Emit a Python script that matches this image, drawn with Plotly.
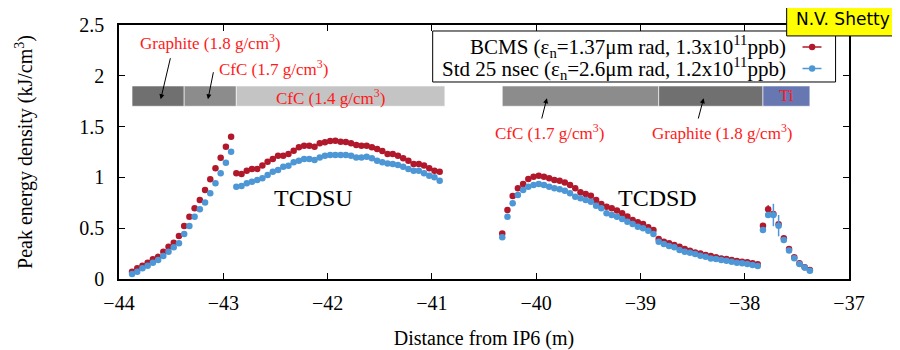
import plotly.graph_objects as go

# ---------------- data ----------------
distance_m = [
    -43.875, -43.825, -43.775, -43.725, -43.675, -43.625, -43.575, -43.525, -43.475, -43.425,
    -43.375, -43.325, -43.275, -43.225, -43.175, -43.125, -43.075, -43.025, -42.975, -42.925,
    -42.875, -42.825, -42.775, -42.725, -42.675, -42.625, -42.575, -42.525, -42.475, -42.425,
    -42.375, -42.325, -42.275, -42.225, -42.175, -42.125, -42.075, -42.025, -41.975, -41.925,
    -41.875, -41.825, -41.775, -41.725, -41.675, -41.625, -41.575, -41.525, -41.475, -41.425,
    -41.375, -41.325, -41.275, -41.225, -41.175, -41.125, -41.075, -41.025, -40.975, -40.925,
    -40.325, -40.275, -40.225, -40.175, -40.125, -40.075, -40.025, -39.975, -39.925, -39.875,
    -39.825, -39.775, -39.725, -39.675, -39.625, -39.575, -39.525, -39.475, -39.425, -39.375,
    -39.325, -39.275, -39.225, -39.175, -39.125, -39.075, -39.025, -38.975, -38.925, -38.875,
    -38.825, -38.775, -38.725, -38.675, -38.625, -38.575, -38.525, -38.475, -38.425, -38.375,
    -38.325, -38.275, -38.225, -38.175, -38.125, -38.075, -38.025, -37.975, -37.925, -37.875,
    -37.825, -37.775, -37.725, -37.675, -37.625, -37.575, -37.525, -37.475, -37.425, -37.375,
]

bcms_density = [
    0.072, 0.105, 0.131, 0.160, 0.194, 0.219, 0.269, 0.318, 0.357, 0.423,
    0.522, 0.613, 0.696, 0.778, 0.876, 0.981, 1.090, 1.194, 1.302, 1.401,
    1.040, 1.033, 1.066, 1.083, 1.083, 1.116, 1.155, 1.181, 1.214, 1.214,
    1.230, 1.263, 1.296, 1.312, 1.312, 1.302, 1.335, 1.345, 1.358, 1.361,
    1.352, 1.348, 1.335, 1.319, 1.312, 1.312, 1.296, 1.280, 1.260, 1.230,
    1.230, 1.214, 1.188, 1.165, 1.132, 1.132, 1.116, 1.089, 1.066, 1.056,
    0.449, 0.679, 0.817, 0.892, 0.935, 0.984, 1.007, 1.017, 1.007, 0.991,
    0.974, 0.968, 0.951, 0.925, 0.892, 0.853, 0.836, 0.820, 0.778, 0.738,
    0.712, 0.696, 0.673, 0.646, 0.614, 0.581, 0.558, 0.541, 0.509, 0.482,
    0.394, 0.367, 0.351, 0.335, 0.318, 0.295, 0.279, 0.262, 0.252, 0.236,
    0.226, 0.213, 0.203, 0.197, 0.187, 0.177, 0.170, 0.164, 0.154, 0.145,
    0.525, 0.686, 0.640, 0.540, 0.400, 0.295, 0.214, 0.155, 0.115, 0.089,
]
bcms_error = [0.0] * 111 + [0.04] + [0.0] * 8

std25_density = [
    0.049, 0.072, 0.105, 0.131, 0.160, 0.187, 0.226, 0.269, 0.312, 0.351,
    0.443, 0.522, 0.613, 0.686, 0.753, 0.844, 0.942, 1.040, 1.145, 1.253,
    0.909, 0.915, 0.942, 0.958, 0.974, 0.991, 1.024, 1.056, 1.073, 1.106,
    1.115, 1.148, 1.165, 1.181, 1.181, 1.171, 1.197, 1.214, 1.220, 1.220,
    1.220, 1.220, 1.214, 1.197, 1.197, 1.204, 1.188, 1.165, 1.148, 1.138,
    1.132, 1.122, 1.106, 1.083, 1.066, 1.066, 1.040, 1.017, 1.001, 0.968,
    0.410, 0.613, 0.745, 0.827, 0.876, 0.909, 0.925, 0.935, 0.925, 0.909,
    0.892, 0.883, 0.869, 0.843, 0.810, 0.794, 0.778, 0.761, 0.722, 0.696,
    0.646, 0.630, 0.613, 0.590, 0.564, 0.541, 0.515, 0.499, 0.476, 0.443,
    0.367, 0.344, 0.324, 0.312, 0.285, 0.269, 0.259, 0.246, 0.230, 0.220,
    0.203, 0.197, 0.187, 0.180, 0.171, 0.161, 0.154, 0.148, 0.138, 0.128,
    0.482, 0.630, 0.630, 0.525, 0.384, 0.280, 0.204, 0.148, 0.112, 0.082,
]
std25_error = [0.0] * 112 + [0.11, 0.105] + [0.0] * 6

series_names = [
    "BCMS (ε<sub>n</sub>=1.37μm rad, 1.3x10<sup>11</sup>ppb)",
    "Std 25 nsec (ε<sub>n</sub>=2.6μm rad, 1.2x10<sup>11</sup>ppb)",
]

# material blocks along the absorber
material_start = [-43.875, -43.375, -42.875, -40.325, -38.825, -37.825]
material_end = [-43.375, -42.875, -40.875, -38.825, -37.825, -37.375]
material_band = [1.70, 1.90]

x_ticks = [-44, -43, -42, -41, -40, -39, -38, -37]
y_ticks = [0, 0.5, 1, 1.5, 2, 2.5]

# ---------------- style ----------------
RED = "#b2182b"
BLUE = "#4d97d6"
FONT = "Liberation Serif"
material_colors = ["#707070", "#8c8c8c", "#c4c4c4", "#8c8c8c", "#707070", "#6677b2"]

fig = go.Figure()
for y, err, col in [(bcms_density, bcms_error, RED), (std25_density, std25_error, BLUE)]:
    fig.add_trace(go.Scatter(
        x=distance_m, y=y, mode="markers",
        marker=dict(color=col, size=6.5),
        error_y=dict(type="data", array=err, visible=True, color=col, thickness=1.5, width=0),
        showlegend=False,
    ))

shapes = []
for x0, x1, c in zip(material_start, material_end, material_colors):
    shapes.append(dict(type="rect", xref="x", yref="y", x0=x0, x1=x1,
                       y0=material_band[0], y1=material_band[1],
                       fillcolor=c, line=dict(color="white", width=0.6), layer="below"))

# legend box (gnuplot style: text right, sample on the right)
shapes.append(dict(type="rect", xref="paper", yref="paper", x0=0.4297, x1=0.9816,
                   y0=0.7756, y1=0.9764, fillcolor="white", line=dict(color="black", width=1)))
leg_rows = [0.9134, 0.8287]
for row_y, col in zip(leg_rows, [RED, BLUE]):
    shapes.append(dict(type="line", xref="paper", yref="paper", x0=0.9363, x1=0.9623,
                       y0=row_y, y1=row_y, line=dict(color=col, width=1.5)))
    shapes.append(dict(type="circle", xref="paper", yref="paper", xsizemode="pixel",
                       ysizemode="pixel", xanchor=0.9495, yanchor=row_y,
                       x0=-3.2, x1=3.2, y0=-3.2, y1=3.2, fillcolor=col, line=dict(color=col, width=0)))

# N.V. Shetty tag
shapes.append(dict(type="rect", xref="paper", yref="paper", x0=0.9146, x1=1.0685,
                   y0=0.957, y1=1.0866, fillcolor="#ffff00", line=dict(color="black", width=1)))

annotations = []
for name, row_y in zip(series_names, leg_rows):
    annotations.append(dict(xref="paper", yref="paper", x=0.917, y=row_y, text=name,
                            showarrow=False, xanchor="right", yanchor="middle",
                            font=dict(family=FONT, size=21, color="black")))

annotations.append(dict(xref="paper", yref="paper", x=0.9915, y=1.022, text="N.V. Shetty",
                        showarrow=False, xanchor="center", yanchor="middle",
                        font=dict(family="DejaVu Sans", size=17, color="black")))

red_font = dict(family=FONT, size=17, color="#ff1a1a")
labels = [
    ("Graphite (1.8 g/cm<sup>3</sup>)", -43.119, 2.336),
    ("CfC (1.7 g/cm<sup>3</sup>)", -42.52, 2.074),
    ("CfC (1.4 g/cm<sup>3</sup>)", -41.97, 1.79),
    ("CfC (1.7 g/cm<sup>3</sup>)", -39.871, 1.45),
    ("Graphite (1.8 g/cm<sup>3</sup>)", -38.217, 1.45),
    ("Ti", -37.601, 1.805),
]
for t, x, y in labels:
    annotations.append(dict(x=x, y=y, text=t, showarrow=False, font=red_font,
                            xanchor="center", yanchor="middle"))

arrows = [
    ((-43.504, 2.188), (-43.60, 1.769)),
    ((-43.092, 2.050), (-43.147, 1.769)),
    ((-39.950, 1.565), (-39.897, 1.779)),
    ((-38.449, 1.565), (-38.394, 1.779)),
]
for (tx, ty), (hx, hy) in arrows:
    annotations.append(dict(x=hx, y=hy, ax=tx, ay=ty, axref="x", ayref="y", text="",
                            showarrow=True, arrowhead=2, arrowsize=1, arrowwidth=1,
                            arrowcolor="black"))

for t, x in [("TCDSU", -42.133), ("TCDSD", -38.84)]:
    annotations.append(dict(x=x, y=0.794, text=t, showarrow=False,
                            font=dict(family=FONT, size=24, color="black")))

axis_common = dict(showline=True, linecolor="black", linewidth=1.5, mirror="ticks",
                   ticks="inside", ticklen=6, tickwidth=1, tickcolor="black",
                   showgrid=False, zeroline=False, automargin=False,
                   tickfont=dict(family=FONT, size=20, color="black"))

# the page body has an 8px margin, so the figure is sized/offset to compensate
fig.update_layout(
    width=892, height=342,
    margin=dict(l=111, r=51, t=17, b=71),
    plot_bgcolor="white", paper_bgcolor="white",
    font=dict(family=FONT, color="black"),
    shapes=shapes, annotations=annotations,
    xaxis=dict(range=[-44, -37], tickvals=x_ticks, ticklabelstandoff=5,
               title=dict(text="Distance from IP6 (m)", font=dict(family=FONT, size=20), standoff=30),
               **axis_common),
    yaxis=dict(range=[0, 2.5], tickvals=y_ticks, ticklabelstandoff=9,
               title=dict(text="Peak energy density (kJ/cm<sup>3</sup>)", font=dict(family=FONT, size=20), standoff=41),
               **axis_common),
)

fig.write_html("out.html")
